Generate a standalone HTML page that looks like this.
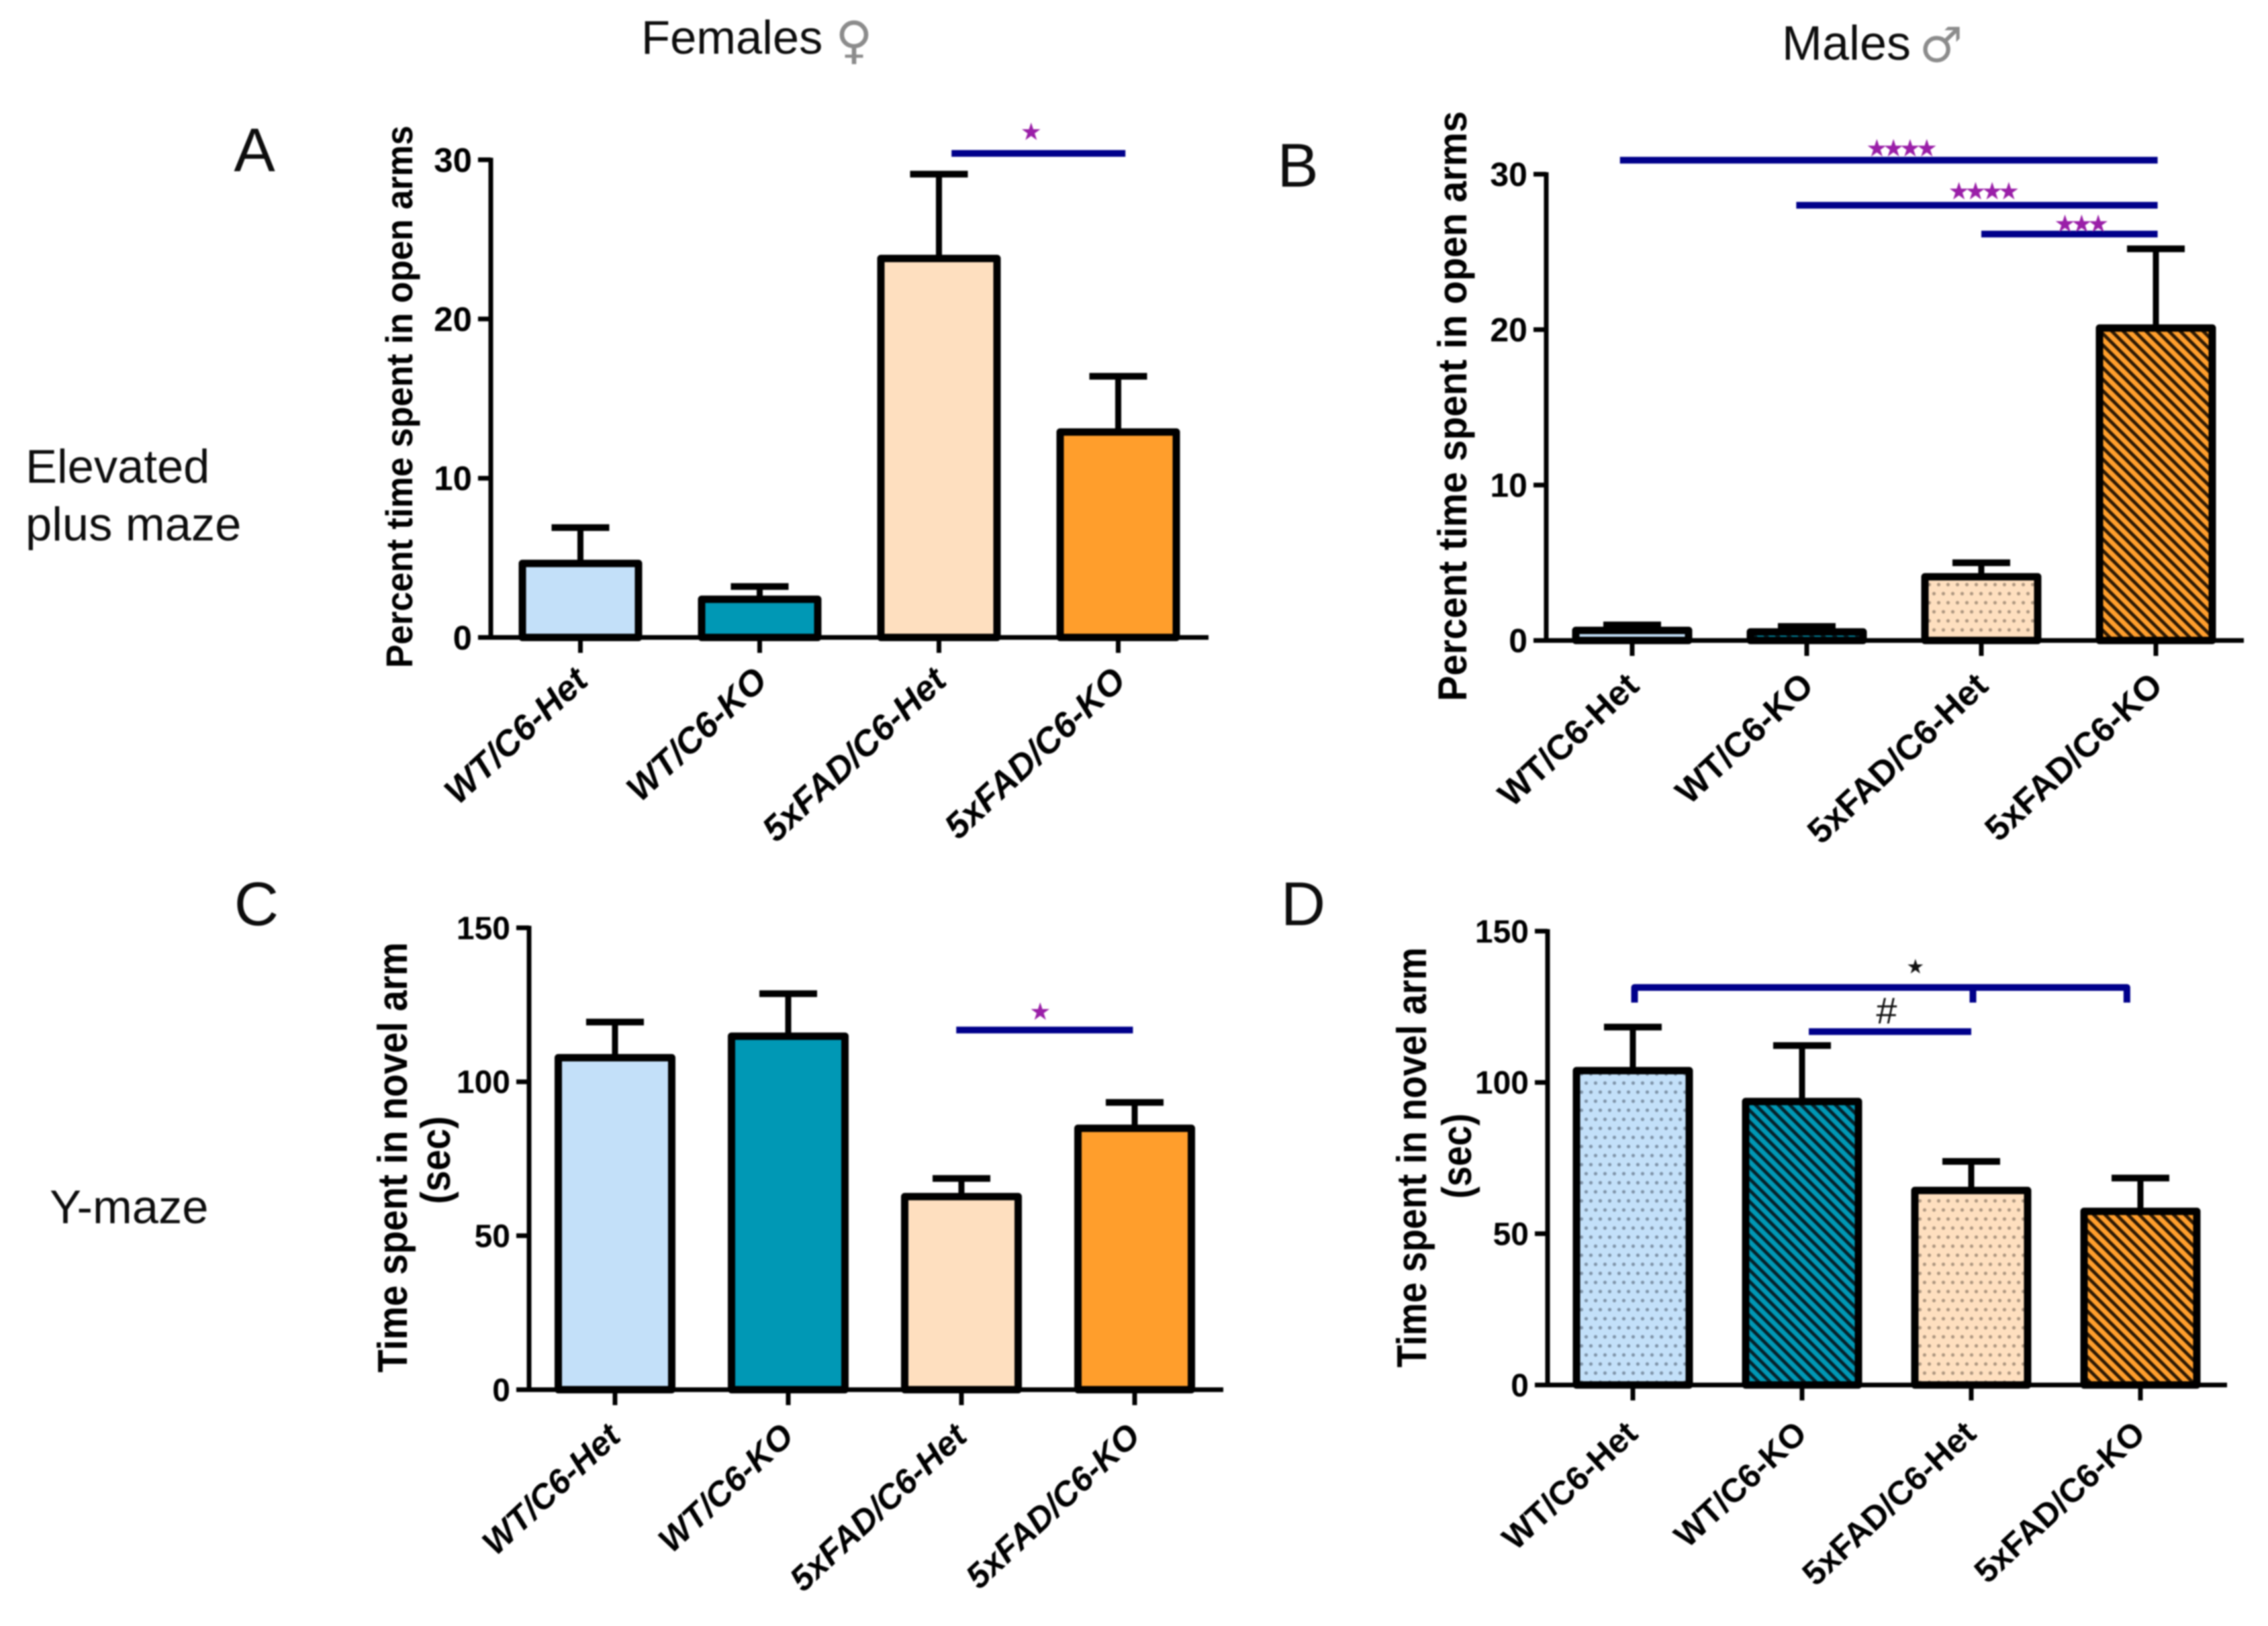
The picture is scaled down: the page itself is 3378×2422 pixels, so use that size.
<!DOCTYPE html>
<html lang="en">
<head>
<meta charset="utf-8">
<title>Open arm and novel arm time by genotype and sex</title>
<style>
  html, body { margin: 0; padding: 0; background: #fff; }
  body { width: 3378px; height: 2422px; overflow: hidden; }
  #figure { display: block; filter: blur(1px); }
  .note { font-family: "Liberation Sans", sans-serif; fill: #0d0d0d; }
</style>
</head>
<body>
<svg id="figure" xmlns="http://www.w3.org/2000/svg" width="3378" height="2422" viewBox="0 0 3378 2422">
  <defs>
    <pattern id="dots-blue" patternUnits="userSpaceOnUse" width="14" height="27">
      <rect width="14" height="27" fill="#C3E0F9"></rect>
      <circle cx="3.5" cy="6.75" r="2.6" fill="#7f94a9"></circle>
      <circle cx="10.5" cy="20.25" r="2.6" fill="#7f94a9"></circle>
    </pattern>
    <pattern id="dots-peach" patternUnits="userSpaceOnUse" width="14" height="27">
      <rect width="14" height="27" fill="#FEDFBF"></rect>
      <circle cx="3.5" cy="6.75" r="2.6" fill="#ae9780"></circle>
      <circle cx="10.5" cy="20.25" r="2.6" fill="#ae9780"></circle>
    </pattern>
    <pattern id="hatch-teal" patternUnits="userSpaceOnUse" width="17" height="17">
      <rect width="17" height="17" fill="#0098B5"></rect>
      <path d="M-2 -2L19 19M-9.5 7.5L9.5 26.5M7.5 -9.5L26.5 9.5" stroke="#06222b" stroke-width="5" fill="none"></path>
    </pattern>
    <pattern id="hatch-orange" patternUnits="userSpaceOnUse" width="17" height="17">
      <rect width="17" height="17" fill="#FF9E2C"></rect>
      <path d="M-2 -2L19 19M-9.5 7.5L9.5 26.5M7.5 -9.5L26.5 9.5" stroke="#2e1a04" stroke-width="5" fill="none"></path>
    </pattern>
  </defs>

  <text class="note" x="955" y="80" font-size="70.5">Females</text>
  <text x="1272" y="86" font-size="76" text-anchor="middle" font-family="'DejaVu Sans', sans-serif" fill="#8c8c8c">♀</text>
  <text class="note" x="2654" y="89" font-size="72">Males</text>
  <text x="2891" y="92" font-size="72" text-anchor="middle" font-family="'DejaVu Sans', sans-serif" fill="#8c8c8c">♂</text>

  <text class="note" x="379" y="255" font-size="92" text-anchor="middle">A</text>
  <text class="note" x="1933" y="278" font-size="92" text-anchor="middle">B</text>
  <text class="note" x="382" y="1378" font-size="92" text-anchor="middle">C</text>
  <text class="note" x="1941" y="1378" font-size="92" text-anchor="middle">D</text>

  <text class="note" x="38" y="719" font-size="70.5">Elevated</text>
  <text class="note" x="38" y="805" font-size="70.5">plus maze</text>
  <text class="note" x="74" y="1822" font-size="70.5">Y-maze</text>

  <g id="charts"></g>
</svg>

<script>
// ---- Data ----
const categories = ['WT/C6-Het', 'WT/C6-KO', '5xFAD/C6-Het', '5xFAD/C6-KO'];

const openArmTicks = [0, 10, 20, 30];
const novelArmTicks = [0, 50, 100, 150];

const femaleOpenArmMeans = [4.65, 2.4, 23.8, 12.9];
const femaleOpenArmErrors = [6.9, 3.2, 29.1, 16.4];

const maleOpenArmMeans = [0.65, 0.55, 4.1, 20.1];
const maleOpenArmErrors = [1.0, 0.9, 5.0, 25.2];

const femaleNovelArmMeans = [107.8, 114.8, 62.7, 84.9];
const femaleNovelArmErrors = [119.4, 128.6, 68.6, 93.3];

const maleNovelArmMeans = [103.9, 93.7, 64.3, 57.4];
const maleNovelArmErrors = [118.3, 112.2, 73.9, 68.4];

// Significance bars: [from category, to category, axis value, marker, marker category, marker value]
const femaleOpenArmStats = [[2.07, 3.04, 30.4, '★', 2.5, 31.8]];
const maleOpenArmStats = [
  [-0.07, 3.01, 30.9, '★★★★', 1.53, 31.7],
  [-0.06, 3.01, 28.0, '★★★★', 2.0, 28.95],
  [-0.0, 3.01, 26.15, '★★★', 2.56, 26.85]
];
const maleOpenArmStatStart = [0, 1, 2];
const femaleNovelArmStats = [[1.97, 2.99, 116.8, '★', 2.44, 123.0]];
const maleNovelArmBrackets = [[0.01, 2.92, 131.4, 126.4, 2.01]];
const maleNovelArmStats = [[1.04, 2.0, 116.8, '#', 1.5, 124]];
const maleNovelArmStarMarks = [['★', 1.67, 138.5]];

// ---- Layout ----
const panels = [
  {
    key: 'a', axisX: 731, baseY: 949.5, topY: 238, maxV: 30, firstX: 864.5, stepX: 267, axisEnd: 1800, barW: 173,
    ticks: openArmTicks, means: femaleOpenArmMeans, errors: femaleOpenArmErrors,
    fills: ['#C3E0F9', '#0098B5', '#FEDFBF', '#FF9E2C'],
    tickFont: 51, labelFont: 53, italic: true, labelDx: 14, labelDy: 68,
    titleX: 614, titleMid: 591, titleLen: 808, titleFont: 56,
    titleLines: ['Percent time spent in open arms'],
    stats: femaleOpenArmStats, starSize: 36
  },
  {
    key: 'b', axisX: 2303, baseY: 954, topY: 259.5, maxV: 30, firstX: 2431, stepX: 260, axisEnd: 3342, barW: 168,
    ticks: openArmTicks, means: maleOpenArmMeans, errors: maleOpenArmErrors,
    fills: ['url(#dots-blue)', 'url(#hatch-teal)', 'url(#dots-peach)', 'url(#hatch-orange)'],
    tickFont: 50, labelFont: 52, italic: false, labelDx: 13, labelDy: 71,
    titleX: 2184, titleMid: 605, titleLen: 879, titleFont: 60,
    titleLines: ['Percent time spent in open arms'],
    stats: [], starSize: 36
  },
  {
    key: 'c', axisX: 788, baseY: 2070, topY: 1382, maxV: 150, firstX: 916, stepX: 258, axisEnd: 1822, barW: 169,
    ticks: novelArmTicks, means: femaleNovelArmMeans, errors: femaleNovelArmErrors,
    fills: ['#C3E0F9', '#0098B5', '#FEDFBF', '#FF9E2C'],
    tickFont: 48, labelFont: 51, italic: true, labelDx: 11, labelDy: 73,
    titleX: 606, titleMid: 1724, titleLen: 641, titleFont: 62,
    titleLines: ['Time spent in novel arm', '(sec)'], secX: 670, secMid: 1728, secLen: 131,
    stats: femaleNovelArmStats, starSize: 36
  },
  {
    key: 'd', axisX: 2305, baseY: 2063, topY: 1387, maxV: 150, firstX: 2432, stepX: 252, axisEnd: 3317, barW: 168,
    ticks: novelArmTicks, means: maleNovelArmMeans, errors: maleNovelArmErrors,
    fills: ['url(#dots-blue)', 'url(#hatch-teal)', 'url(#dots-peach)', 'url(#hatch-orange)'],
    tickFont: 48, labelFont: 50, italic: false, labelDx: 10, labelDy: 76,
    titleX: 2124, titleMid: 1724, titleLen: 626, titleFont: 62,
    titleLines: ['Time spent in novel arm', '(sec)'], secX: 2191, secMid: 1722, secLen: 127,
    stats: maleNovelArmStats, starSize: 36
  }
];

const SVG_NS = 'http://www.w3.org/2000/svg';
const root = document.getElementById('charts');
const navy = '#00008B';
const purple = '#9A1FA8';
const sans = '"Liberation Sans", sans-serif';

function make(parent, tag, attrs) {
  const node = document.createElementNS(SVG_NS, tag);
  for (const k in attrs) node.setAttribute(k, attrs[k]);
  parent.appendChild(node);
  return node;
}

function drawStat(group, p, xScale, yScale, s, startCat) {
  const fromCat = startCat === undefined ? s[0] : startCat + s[0];
  const line = make(group, 'line', { x1: xScale(fromCat), x2: xScale(s[1]), y1: yScale(s[2]), y2: yScale(s[2]), stroke: navy, 'stroke-width': 10 });
  
  
  const isHash = s[3] === '#';
  const size = isHash ? 56 : p.starSize;
  const mark = make(group, 'text', {
    x: xScale(s[4]), y: yScale(s[5]) + size * 0.36, 'text-anchor': 'middle', 'font-size': size,
    'font-family': isHash ? sans : '"DejaVu Sans", sans-serif', fill: isHash ? '#111' : purple,
    'letter-spacing': isHash ? 0 : -7.5
  });
  mark.textContent = s[3];
  
  
}

panels.forEach(function (p) {
  const group = make(root, 'g', {});
  
  

  const yScale = function (v) { return p.baseY - (v / p.maxV) * (p.baseY - p.topY); };
  const xScale = function (i) { return p.firstX + i * p.stepX; };

  // Error bars sit under the bar outline
  p.errors.forEach(function (err, i) {
    const stem = make(group, 'line', { x1: xScale(i), x2: xScale(i), y1: yScale(p.means[i]), y2: yScale(err), stroke: '#000', 'stroke-width': 9 });
    
    
    const cap = make(group, 'line', { x1: xScale(i) - 43, x2: xScale(i) + 43, y1: yScale(err), y2: yScale(err), stroke: '#000', 'stroke-width': 10 });
    
    
  });

  // Bars
  p.means.forEach(function (m, i) {
    const bar = make(group, 'rect', {
      x: xScale(i) - p.barW / 2, y: yScale(m), width: p.barW, height: p.baseY - yScale(m),
      fill: p.fills[i], stroke: '#000', 'stroke-width': 11, 'stroke-linejoin': 'round'
    });
    
    
  });

  // Axes
  const yAxis = make(group, 'line', { x1: p.axisX, x2: p.axisX, y1: p.topY - 3, y2: p.baseY + 3, stroke: '#000', 'stroke-width': 7 });
  
  
  const xAxis = make(group, 'line', { x1: p.axisX - 19, x2: p.axisEnd, y1: p.baseY, y2: p.baseY, stroke: '#000', 'stroke-width': 7 });
  
  

  p.ticks.forEach(function (t) {
    const tick = make(group, 'line', { x1: p.axisX - 19, x2: p.axisX, y1: yScale(t), y2: yScale(t), stroke: '#000', 'stroke-width': 7 });
    
    
    const label = make(group, 'text', {
      x: p.axisX - 28, y: yScale(t) + p.tickFont * 0.35, 'text-anchor': 'end', 'font-size': p.tickFont,
      'font-weight': 'bold', 'font-family': sans, fill: '#000'
    });
    label.textContent = t;
    
    
  });

  categories.forEach(function (c, i) {
    const tick = make(group, 'line', { x1: xScale(i), x2: xScale(i), y1: p.baseY, y2: p.baseY + 23, stroke: '#000', 'stroke-width': 7 });
    
    
    const lx = xScale(i) + p.labelDx;
    const ly = p.baseY + p.labelDy;
    const label = make(group, 'text', {
      x: lx, y: ly, transform: 'rotate(-43 ' + lx + ' ' + ly + ')', 'text-anchor': 'end', 'font-size': p.labelFont,
      'font-weight': 'bold', 'font-style': p.italic ? 'italic' : 'normal', 'font-family': sans, fill: '#000'
    });
    label.textContent = c;
    
    
  });

  // Y axis title
  const title = make(group, 'text', {
    x: p.titleX, y: p.titleMid, transform: 'rotate(-90 ' + p.titleX + ' ' + p.titleMid + ')', 'text-anchor': 'middle',
    'font-size': p.titleFont, 'font-weight': 'bold', 'font-family': sans, fill: '#000',
    textLength: p.titleLen, lengthAdjust: 'spacingAndGlyphs'
  });
  title.textContent = p.titleLines[0];
  
  
  if (p.titleLines[1]) {
    const sec = make(group, 'text', {
      x: p.secX, y: p.secMid, transform: 'rotate(-90 ' + p.secX + ' ' + p.secMid + ')', 'text-anchor': 'middle',
      'font-size': p.titleFont, 'font-weight': 'bold', 'font-family': sans, fill: '#000',
      textLength: p.secLen, lengthAdjust: 'spacingAndGlyphs'
    });
    sec.textContent = p.titleLines[1];
    
    
  }

  p.stats.forEach(function (s) { drawStat(group, p, xScale, yScale, s); });

  if (p.key === 'b') {
    maleOpenArmStats.forEach(function (s, i) { drawStat(group, p, xScale, yScale, s, maleOpenArmStatStart[i]); });
  }

  if (p.key === 'd') {
    maleNovelArmBrackets.forEach(function (b) {
      const x0 = xScale(b[0]), x1 = xScale(b[1]), yTop = yScale(b[2]), yEnd = yScale(b[3]), xMid = xScale(b[4]);
      const bracket = make(group, 'path', {
        d: 'M' + x0 + ' ' + yEnd + 'L' + x0 + ' ' + yTop + 'L' + x1 + ' ' + yTop + 'L' + x1 + ' ' + yEnd + 'M' + xMid + ' ' + yTop + 'L' + xMid + ' ' + yEnd,
        fill: 'none', stroke: navy, 'stroke-width': 10, 'stroke-linejoin': 'round'
      });
      
      
    });
    maleNovelArmStarMarks.forEach(function (m) {
      const star = make(group, 'text', {
        x: xScale(m[1]), y: yScale(m[2]) + 11, 'text-anchor': 'middle', 'font-size': 30,
        'font-family': '"DejaVu Sans", sans-serif', fill: '#111'
      });
      star.textContent = m[0];
      
      
    });
  }
});
</script>
</body>
</html>
